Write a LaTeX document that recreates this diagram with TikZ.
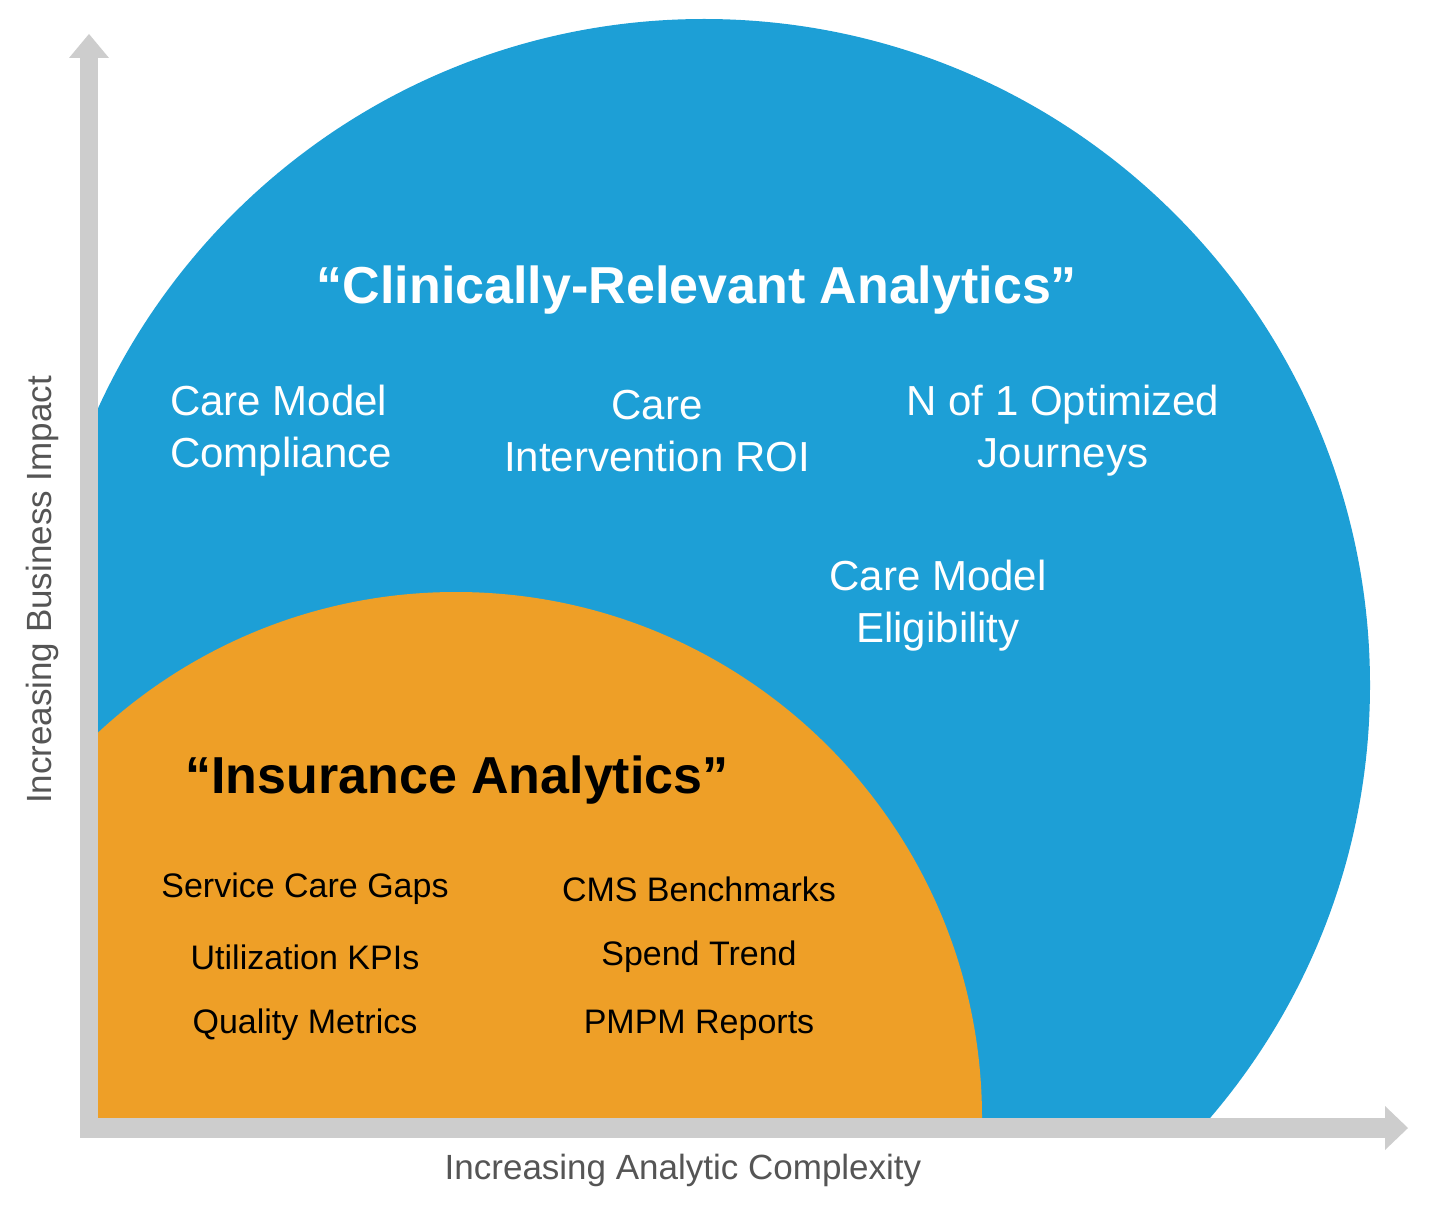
\documentclass[tikz,border=0pt]{standalone}
\usepackage{fontspec}
\setmainfont{Liberation Sans}
\definecolor{cblue}{HTML}{1D9FD6}
\definecolor{corange}{HTML}{EE9F27}
\definecolor{axgray}{HTML}{CDCDCD}
\definecolor{labgray}{HTML}{555555}
\begin{document}
\begin{tikzpicture}[x=1pt,y=-1pt,
  wt/.style={text=white,font=\fontsize{42}{52}\selectfont,align=center,inner sep=0},
  bt/.style={text=black,font=\fontsize{34}{40}\selectfont,inner sep=0},
  axl/.style={text=labgray,font=\fontsize{35}{40}\selectfont,inner sep=0}]
\useasboundingbox (0,0) rectangle (1440,1214);
\begin{scope}
\clip (98,0) rectangle (1440,1118);
\fill[cblue] (704,685) circle (666);
\fill[corange] (456,1118) circle (526);
\end{scope}
% axes
\fill[axgray] (80,57) rectangle (98,1138);
\fill[axgray] (69,58) -- (89,34) -- (109,58) -- cycle;
\fill[axgray] (80,1118) rectangle (1386,1138);
\fill[axgray] (1385,1106) -- (1408,1128) -- (1385,1150) -- cycle;
\node[wt,font=\fontsize{52}{60}\selectfont\bfseries] (t1) at (697,290) {“Clinically-Relevant Analytics”};
\node[wt,align=left,anchor=west] (c1) at (170,431) {Care Model\\Compliance};
\node[wt] (c2) at (657,431) {Care\\Intervention ROI};
\node[wt] (c3) at (1063,431) {N of 1 Optimized\\Journeys};
\node[wt] (c4) at (938,606) {Care Model\\Eligibility};
\node[text=black,inner sep=0,font=\fontsize{52}{60}\selectfont\bfseries] (t2) at (457,780) {“Insurance Analytics”};
\node[bt] (o1) at (305,889) {Service Care Gaps};
\node[bt] (o2) at (305,957) {Utilization KPIs};
\node[bt] (o3) at (305,1025) {Quality Metrics};
\node[bt] (o4) at (699,889) {CMS Benchmarks};
\node[bt] (o5) at (699,957) {Spend Trend};
\node[bt] (o6) at (699,1025) {PMPM Reports};
\node[axl,rotate=90] (ay) at (42,590) {Increasing Business Impact};
\node[axl] (ax) at (683,1170) {Increasing Analytic Complexity};
\end{tikzpicture}
\end{document}
